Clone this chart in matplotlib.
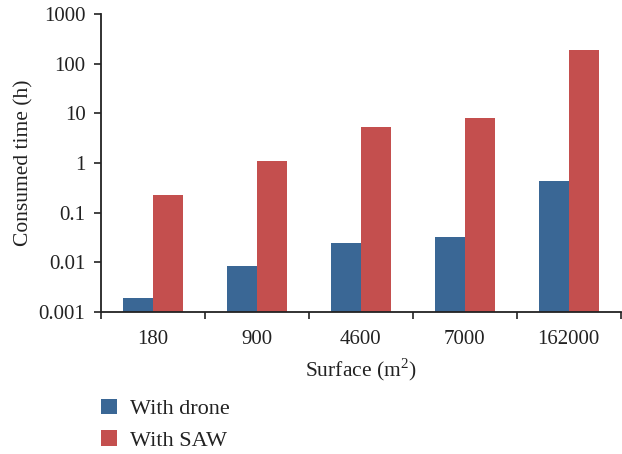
import numpy as np
import matplotlib.pyplot as plt
from matplotlib.ticker import FixedLocator, NullLocator

plt.rcParams['font.family'] = ['Liberation Serif', 'DejaVu Serif']
plt.rcParams['mathtext.fontset'] = 'custom'
plt.rcParams['mathtext.rm'] = 'Liberation Serif'

surfaces = ['180', '900', '4600', '7000', '162000']
with_drone = [0.00194, 0.0084, 0.0245, 0.033, 0.434]
with_saw = [0.223, 1.09, 5.35, 8.0, 185]
y_ticks = [0.001, 0.01, 0.1, 1, 10, 100, 1000]
y_tick_labels = ['0.001', '0.01', '0.1', '1', '10', '100', '1000']

blue = '#3a6795'
red = '#c44f4e'
base = 0.001

fig = plt.figure(figsize=(6.22, 4.54), dpi=100)
ax = fig.add_axes([0.162, 0.313, 0.836, 0.656])

x = np.arange(len(surfaces))
w = 0.287
ax.bar(x - w / 2, np.array(with_drone) - base, width=w, color=blue, bottom=base, label='With drone')
ax.bar(x + w / 2, np.array(with_saw) - base, width=w, color=red, bottom=base, label='With SAW')

ax.set_yscale('log')
ax.set_ylim(0.001, 1000)
ax.set_xlim(-0.5, len(surfaces) - 0.5)
ax.yaxis.set_major_locator(FixedLocator(y_ticks))
ax.yaxis.set_minor_locator(NullLocator())
ax.set_yticklabels(y_tick_labels)

# category labels in the middle, ticks on the group edges
ax.set_xticks(x)
ax.set_xticklabels(surfaces)
ax.tick_params(axis='x', which='major', length=0, pad=13)
ax.set_xticks(np.arange(len(surfaces) + 1) - 0.5, minor=True)
ax.tick_params(axis='x', which='minor', length=5, width=1.2, color='#222222')
ax.tick_params(axis='y', length=5, width=1.2, color='#222222', pad=6)
ax.tick_params(labelsize=15, labelcolor='#222222')

for s in ['top', 'right']:
    ax.spines[s].set_visible(False)
for s in ['left', 'bottom']:
    ax.spines[s].set_linewidth(1.3)
    ax.spines[s].set_color('#222222')

ax.set_ylabel('Consumed time (h)', fontsize=15.5, color='#222222', labelpad=4)
ax.set_xlabel('Surface (m$^2$)', fontsize=15.5, color='#222222', labelpad=5)

fig.legend(loc='upper left', bbox_to_anchor=(0.163, 0.122), frameon=False,
           borderpad=0, borderaxespad=0,
           fontsize=16, handlelength=0.72, handleheight=0.72, handletextpad=0.55,
           labelspacing=0.5, labelcolor='#222222')

fig.savefig('out.png', dpi=100)
